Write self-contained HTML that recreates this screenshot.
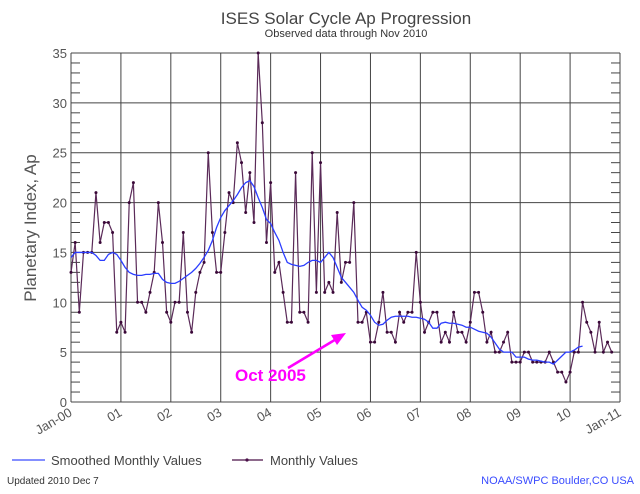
<!DOCTYPE html>
<html><head><meta charset="utf-8"><style>
body{margin:0;background:#fff;width:640px;height:489px;overflow:hidden;font-family:"Liberation Sans",sans-serif}
svg text{font-family:"Liberation Sans",sans-serif}
</style></head><body>
<svg id="chart" width="640" height="489" xmlns="http://www.w3.org/2000/svg">
<text x="346" y="24" text-anchor="middle" font-size="17" fill="#444">ISES Solar Cycle Ap Progression</text>
<text x="346" y="37" text-anchor="middle" font-size="11" fill="#333">Observed data through Nov 2010</text>
<g id="grid"></g>
<g id="ticks"></g>
<text transform="translate(36,228) rotate(-90)" text-anchor="middle" font-size="17" fill="#555">Planetary Index, Ap</text>
<g id="series"></g>
<text x="235" y="381" font-size="17" font-weight="bold" fill="#ff00ff">Oct 2005</text>
<line x1="288" y1="368" x2="338" y2="338" stroke="#ff00ff" stroke-width="2.5"/>
<polygon points="346,333 331,335 337,345" fill="#ff00ff"/>
<line x1="12" y1="460" x2="45" y2="460" stroke="#3a4cff" stroke-width="1.2"/>
<text x="51" y="465" font-size="13" fill="#444">Smoothed Monthly Values</text>
<line x1="232" y1="460" x2="263" y2="460" stroke="#4a1048" stroke-width="1.2"/>
<circle cx="247" cy="460" r="1.6" fill="#4a1048"/>
<text x="270" y="465" font-size="13" fill="#444">Monthly Values</text>
<text x="7" y="484" font-size="10" fill="#333">Updated 2010 Dec  7</text>
<text x="634" y="484" text-anchor="end" font-size="11" fill="#3a4cff">NOAA/SWPC Boulder,CO USA</text>
</svg>
<script>
const yTicks=[0,5,10,15,20,25,30,35];
const xLabels=["Jan-00","01","02","03","04","05","06","07","08","09","10","Jan-11"];
const monthly=[13,16,9,15,15,15,21,16,18,18,17,7,
8,7,20,22,10,10,9,11,13,20,16,9,
8,10,10,17,9,7,11,13,14,25,17,13,
13,17,21,20,26,24,19,23,18,35,28,16,
22,13,14,11,8,8,23,9,9,8,25,11,
24,11,12,11,19,12,14,14,20,8,8,9,
6,6,8,11,7,7,6,9,8,9,9,15,
10,7,8,9,9,6,7,6,9,7,7,6,
8,11,11,9,6,7,5,5,6,7,4,4,
4,5,5,4,4,4,4,5,4,3,3,2,
3,5,5,10,8,7,5,8,5,6,5];
const smoothed=[14.5,15,15,15,15,15,14.7,14.2,14.2,14.8,15,14.8,
14.2,13.5,13,12.8,12.7,12.7,12.8,12.8,12.9,12.9,12.3,12.0,
11.9,11.9,12.1,12.4,12.7,13,13.4,13.9,14.5,15.2,16.2,17.5,
18.5,19.2,19.7,20.2,20.8,21.5,22,22.2,21.6,20.5,19.5,18.3,
17.9,17,16.2,15,14,13.8,13.7,13.6,13.7,14,14.2,14.2,
14,14.5,15,14.5,13.5,12.5,12,11.5,11,10.2,9.5,9.2,
8.7,8,7.7,7.8,8.2,8.5,8.6,8.6,8.6,8.6,8.5,8.5,
8.4,8.3,8,7.4,7.4,7.9,8,7.9,7.9,7.8,7.7,7.5,
7.5,7.3,7.1,7.0,6.9,6.5,5.9,5.3,5.0,5.0,5.0,4.5,
4.5,4.5,4.3,4.2,4.2,4.1,4.0,4.0,3.8,4.2,4.6,5.0,
5.0,5.2,5.5,5.6];
const L=71,R=620,T=53,B=402,YMAX=35,NM=132;
const xs=m=>L+(R-L)*m/NM;
const ys=v=>B-(B-T)*v/YMAX;
const NS="http://www.w3.org/2000/svg";
function mk(tag,parent,attrs){const e=document.createElementNS(NS,tag);for(const k in attrs)e.setAttribute(k,attrs[k]);parent.appendChild(e);return e;}
const grid=document.getElementById('grid'),ticks=document.getElementById('ticks'),series=document.getElementById('series');
yTicks.forEach(v=>{
 const l=mk('line',grid,{x1:L,x2:R,y1:ys(v),y2:ys(v),stroke:'#444','stroke-width':1});
 
 
 const t=mk('text',ticks,{x:L-4,y:ys(v)+5,'text-anchor':'end','font-size':13,fill:'#555'});
 t.textContent=v;
 
 
});
for(let v=0;v<=YMAX;v++){
 if(v%5===0)continue;
 const a=mk('line',ticks,{x1:L,x2:L+9,y1:ys(v),y2:ys(v),stroke:'#444'});
 
 
 const b=mk('line',ticks,{x1:R-9,x2:R,y1:ys(v),y2:ys(v),stroke:'#444'});
 
 
}
xLabels.forEach((s,i)=>{
 const x=xs(i*12);
 const l=mk('line',grid,{x1:x,x2:x,y1:T,y2:B,stroke:'#444','stroke-width':1});
 
 
 const t=mk('text',ticks,{x:x+2,y:B+13,'text-anchor':'end','font-size':13,fill:'#555',transform:`rotate(-30 ${x+2} ${B+13})`});
 t.textContent=s;
 
 
});
const m=mk('polyline',series,{points:monthly.map((v,i)=>xs(i)+','+ys(v)).join(' '),fill:'none',stroke:'#5a2a58','stroke-width':1.2});


monthly.forEach((v,i)=>{
 const c=mk('circle',series,{cx:xs(i),cy:ys(v),r:1.5,fill:'#3a0838'});
 
 
});
const s=mk('polyline',series,{points:smoothed.map((v,i)=>xs(i)+','+ys(v)).join(' '),fill:'none',stroke:'#2b3dff','stroke-width':1.3});


</script>
</body></html>
